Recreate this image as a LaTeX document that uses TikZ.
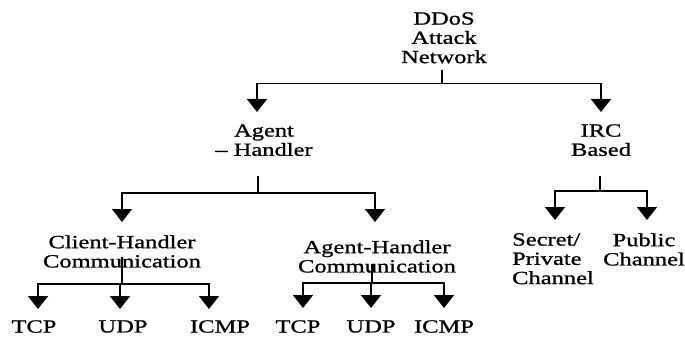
\documentclass[tikz,border=0pt]{standalone}
\usepackage{fontspec}
\setmainfont{Liberation Serif}[FakeStretch=1.32, FakeBold=1]
\usepackage{tikz}
\usetikzlibrary{positioning,arrows.meta,calc}

\begin{document}
\begin{tikzpicture}[
  texto/.style={align=center, inner sep=0pt, anchor=north,
                font=\fontsize{13.2}{13.7}\selectfont},
  linea/.style={line width=1.2pt},
  flecha/.style={line width=1.2pt, -{Triangle[width=0.5cm, length=0.325cm]}}
]
  \useasboundingbox (0,0) rectangle (17.125,8.425);

  % --- raiz
  \node[texto] (ddos) at (11.1,8.125) {DDoS\\Attack\\Network};

  % --- segundo nivel
  \node[texto] (agente) at (6.6,5.325) {Agent\\– Handler};
  \node[texto] (irc) at (15.025,5.325) {IRC\\Based};

  % --- tercer nivel
  \node[texto] (cliente) at (3.05,2.55) {Client-Handler\\Communication};
  \node[texto] (agcom) at (9.425,2.425) {Agent-Handler\\Communication};
  \node[texto, align=left] (secreto) at (13.825,2.6) {Secret/\\Private\\Channel};
  \node[texto] (publico) at (16.1,2.6) {Public\\Channel};

  % --- protocolos
  \node[texto] (tcpa) at (0.85,0.425) {TCP};
  \node[texto] (udpa) at (3.075,0.425) {UDP};
  \node[texto] (icmpa) at (5.5,0.425) {ICMP};
  \node[texto] (tcpb) at (7.45,0.425) {TCP};
  \node[texto] (udpb) at (9.275,0.425) {UDP};
  \node[texto] (icmpb) at (11.1,0.425) {ICMP};

  % raiz -> agente / irc
  \draw[linea, shorten <=0.15cm] ([xshift=-0.05cm]ddos.south) -- ++(0,-0.5) coordinate (jddos);
  \draw[flecha, shorten >=0.3cm] (jddos) -| ([xshift=-0.175cm]agente.north);
  \draw[flecha, shorten >=0.3cm] (jddos) -| (irc.north);

  % agente -> comunicaciones
  \draw[linea, shorten <=0.5cm] ([xshift=-0.15cm]agente.south) -- ++(0,-0.925) coordinate (jagente);
  \draw[flecha, shorten >=0.325cm] (jagente) -| (cliente.north);
  \draw[flecha, shorten >=0.45cm] (jagente) -| ([xshift=-0.05cm]agcom.north);

  % irc -> canales
  \draw[linea, shorten <=0.5cm] ([xshift=-0.025cm]irc.south) -- ++(0,-0.875) coordinate (jirc);
  \draw[flecha, shorten >=0.325cm] (jirc) -| ([xshift=0.05cm]secreto.north);
  \draw[flecha, shorten >=0.325cm] (jirc) -| ([xshift=0.075cm]publico.north);

  % cliente -> protocolos
  \draw[linea] ([yshift=0.275cm]cliente.south) -- ++(0,-0.675) coordinate (jcliente);
  \draw[flecha, shorten >=0.275cm] (jcliente) -| ([xshift=0.1cm]tcpa.north);
  \draw[flecha, shorten >=0.275cm] (jcliente) -| ([xshift=-0.075cm]udpa.north);
  \draw[flecha, shorten >=0.275cm] (jcliente) -| ([xshift=-0.275cm]icmpa.north);

  % agcom -> protocolos
  \draw[linea] ([xshift=-0.125cm, yshift=0.225cm]agcom.south) -- ++(0,-0.475) coordinate (jagcom);
  \draw[flecha, shorten >=0.3cm] (jagcom) -| ([xshift=0.125cm]tcpb.north);
  \draw[flecha, shorten >=0.3cm] (jagcom) -| (udpb.north);
  \draw[flecha, shorten >=0.3cm] (jagcom) -| (icmpb.north);
\end{tikzpicture}
\end{document}
